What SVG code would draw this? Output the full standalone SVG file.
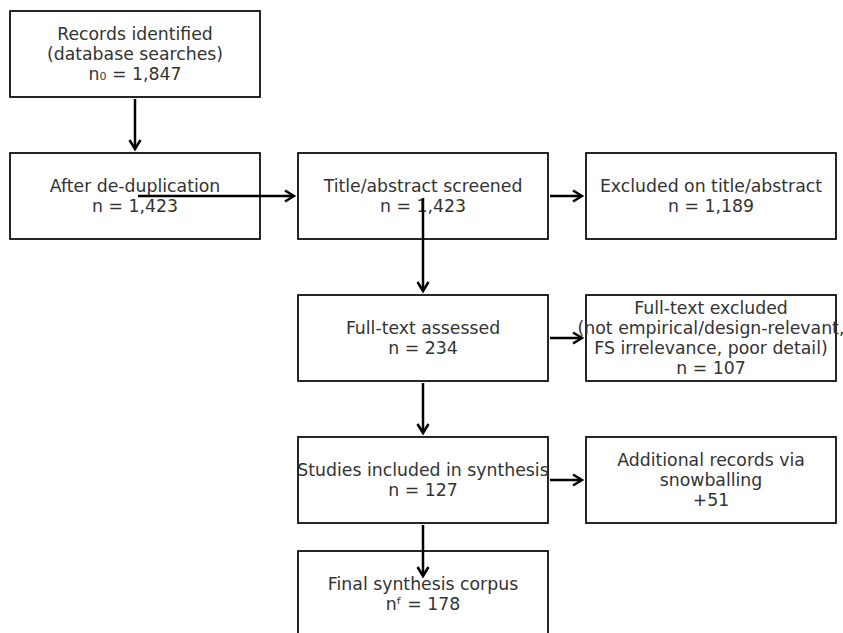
<svg xmlns="http://www.w3.org/2000/svg" width="843" height="633" viewBox="0 0 843 633">
<defs>
<marker id="ah" markerWidth="14" markerHeight="14" viewBox="-11 -7 13 14" refX="0" refY="0" orient="auto" markerUnits="userSpaceOnUse">
<path d="M-9,-5.5 L0,0 L-9,5.5" fill="none" stroke="#000" stroke-width="2.5"/>
</marker>
</defs>
<style>
rect.box{fill:#fff;stroke:#000;stroke-width:1.7}
text{font-family:"DejaVu Sans","Liberation Sans",sans-serif;font-size:17.3px;fill:#333;text-anchor:middle}
.conn line{stroke:#000;stroke-width:2.5;marker-end:url(#ah)}
</style>
<rect width="843" height="633" fill="#fff"/>
<g id="records"><rect class="box" x="10" y="11" width="250" height="86"/>
<text x="135" y="40">Records identified</text><text x="135" y="60">(database searches)</text><text x="135" y="80">n₀ = 1,847</text></g>
<g id="dedup"><rect class="box" x="10" y="153" width="250" height="86"/>
<text x="135" y="192">After de-duplication</text><text x="135" y="212">n = 1,423</text></g>
<g id="screened"><rect class="box" x="298" y="153" width="250" height="86"/>
<text x="423" y="192">Title/abstract screened</text><text x="423" y="212">n = 1,423</text></g>
<g id="excl-title"><rect class="box" x="586" y="153" width="250" height="86"/>
<text x="711" y="192">Excluded on title/abstract</text><text x="711" y="212">n = 1,189</text></g>
<g id="fulltext"><rect class="box" x="298" y="295" width="250" height="86"/>
<text x="423" y="334">Full-text assessed</text><text x="423" y="354">n = 234</text></g>
<g id="excl-full"><rect class="box" x="586" y="295" width="250" height="86"/>
<text x="711" y="314">Full-text excluded</text><text x="711" y="334">(not empirical/design-relevant,</text><text x="711" y="354">FS irrelevance, poor detail)</text><text x="711" y="374">n = 107</text></g>
<g id="included"><rect class="box" x="298" y="437" width="250" height="86"/>
<text x="423" y="476">Studies included in synthesis</text><text x="423" y="496">n = 127</text></g>
<g id="snowball"><rect class="box" x="586" y="437" width="250" height="86"/>
<text x="711" y="466">Additional records via</text><text x="711" y="486">snowballing</text><text x="711" y="506">+51</text></g>
<g id="final"><rect class="box" x="298" y="551" width="250" height="86"/>
<text x="423" y="590">Final synthesis corpus</text><text x="423" y="610">nᶠ = 178</text></g>
<g class="conn" id="connectors">
<line x1="135" y1="99" x2="135" y2="149"/>
<line x1="138" y1="196" x2="294" y2="196"/>
<line x1="550" y1="196" x2="582" y2="196"/>
<line x1="423" y1="198" x2="423" y2="291"/>
<line x1="550" y1="338" x2="582" y2="338"/>
<line x1="423" y1="383" x2="423" y2="433"/>
<line x1="550" y1="480" x2="582" y2="480"/>
<line x1="423" y1="525" x2="423" y2="576"/>
</g>
</svg>
